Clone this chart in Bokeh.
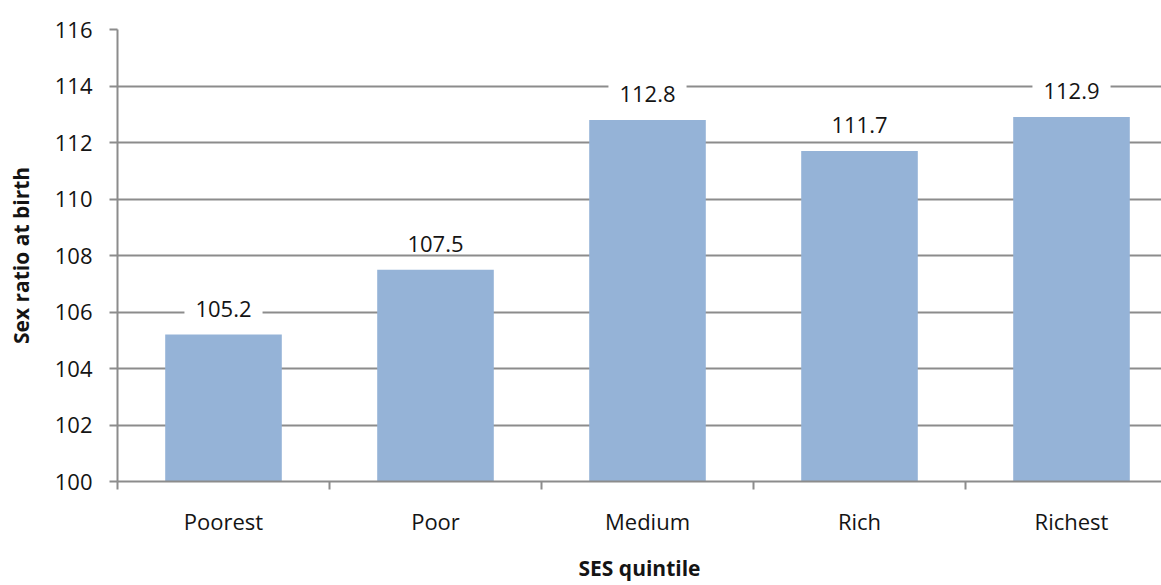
from bokeh.plotting import figure
from bokeh.models import Range1d, FixedTicker, LinearAxis, ColumnDataSource
from bokeh.embed import file_html
from bokeh.resources import INLINE
from bokeh.core.properties import value

# Sex ratio at birth by socio-economic quintile
quintiles = ["Poorest", "Poor", "Medium", "Rich", "Richest"]
sex_ratio = [105.2, 107.5, 112.8, 111.7, 112.9]
y_ticks = [100, 102, 104, 106, 108, 110, 112, 114, 116]

FONT = "Open Sans"
GRID = "#8c8c8c"
BAR = "#95b3d7"
TEXT = "#141414"

n = len(quintiles)
centers = [i + 0.5 for i in range(n)]
src = ColumnDataSource(dict(
    x=centers,
    top=sex_ratio,
    label=[f"{v:.1f}" for v in sex_ratio],
))

W, H = 1161, 585
LEFT, TOP = 117, 29
CAT_PX = 212  # pixel width of one category slot
frame_w = W - LEFT

p = figure(
    width=W, height=H,
    output_backend="svg", toolbar_location=None,
    x_range=Range1d(0, frame_w / CAT_PX),
    y_range=Range1d(100, 116),
    min_border_left=LEFT, min_border_right=0,
    min_border_top=TOP, min_border_bottom=104,
    x_axis_location=None, y_axis_location=None,
)
p.outline_line_color = None
p.background_fill_color = "white"
p.border_fill_color = "white"

# y axis with outward ticks
yax = LinearAxis(
    ticker=FixedTicker(ticks=y_ticks),
    axis_label="Sex ratio at birth",
)
yax.axis_line_color = GRID
yax.axis_line_width = 2
yax.major_tick_line_color = GRID
yax.major_tick_line_width = 2
yax.major_tick_out = 8
yax.major_tick_in = 0
yax.minor_tick_line_color = None
yax.major_label_text_font = FONT
yax.major_label_text_font_size = "22px"
yax.major_label_text_color = TEXT
yax.major_label_standoff = 17
yax.axis_label_text_font = FONT
yax.axis_label_text_font_size = "21px"
yax.axis_label_text_font_style = "bold"
yax.axis_label_text_color = TEXT
yax.axis_label_standoff = 17
p.add_layout(yax, "left")

# x axis line with tick marks at category boundaries
bounds = list(range(n + 1))
xbound = LinearAxis(ticker=FixedTicker(ticks=bounds))
xbound.major_label_overrides = {b: "" for b in bounds}
xbound.axis_line_color = GRID
xbound.axis_line_width = 2
xbound.major_tick_line_color = GRID
xbound.major_tick_line_width = 2
xbound.major_tick_out = 8
xbound.major_tick_in = 0
xbound.minor_tick_line_color = None
xbound.major_label_standoff = 0
p.add_layout(xbound, "below")

# category names centred in each slot, with the axis title below them
xcat = LinearAxis(ticker=FixedTicker(ticks=centers), axis_label="SES quintile")
xcat.major_label_overrides = {c: q for c, q in zip(centers, quintiles)}
xcat.axis_line_color = None
xcat.major_tick_line_color = None
xcat.minor_tick_line_color = None
xcat.major_tick_out = 0
xcat.major_tick_in = 0
xcat.major_label_text_font = FONT
xcat.major_label_text_font_size = "22px"
xcat.major_label_text_color = TEXT
xcat.major_label_standoff = 16
xcat.axis_label_text_font = FONT
xcat.axis_label_text_font_size = "21px"
xcat.axis_label_text_font_style = "bold"
xcat.axis_label_text_color = TEXT
xcat.axis_label_standoff = 15
p.add_layout(xcat, "below")

p.xgrid.visible = False
p.ygrid.ticker = FixedTicker(ticks=y_ticks)
p.ygrid.grid_line_color = GRID
p.ygrid.grid_line_width = 2

p.vbar(x="x", top="top", bottom=100, width=0.55, source=src,
       fill_color=BAR, line_color=None)

p.text(x="x", y="top", text="label", source=src,
       y_offset=-26, text_align="center", text_baseline="middle",
       text_font=value(FONT), text_font_size="22px", text_color=TEXT,
       background_fill_color="white", padding=(11, 2))

open("out.html", "w").write(file_html(p, INLINE))
